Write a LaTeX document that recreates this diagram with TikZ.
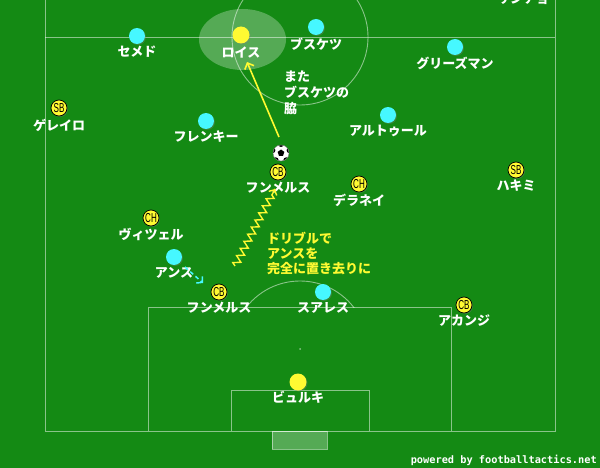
\documentclass[tikz,border=0pt]{standalone}
\usepackage{fontspec}
\setmainfont{Liberation Sans}
\newfontfamily\jpfont{Noto Sans CJK JP}
\newfontfamily\monofont{DejaVu Sans Mono}
\usetikzlibrary{arrows.meta,decorations.pathmorphing,shadows,shapes.geometric,calc}

\definecolor{pitch}{RGB}{20,138,20}
\definecolor{pyellow}{RGB}{255,250,50}
\definecolor{pcyan}{RGB}{70,248,255}

\tikzset{
  pline/.style={draw=white, opacity=0.5, line width=0.9pt},
  cyanp/.style={circle, fill=pcyan, minimum size=16pt, inner sep=0pt,
    drop shadow={shadow xshift=1pt, shadow yshift=-1pt, opacity=0.35}},
  yellowp/.style={circle, fill=pyellow, minimum size=17pt, inner sep=0pt,
    drop shadow={shadow xshift=1pt, shadow yshift=-1pt, opacity=0.35}},
  badge/.style={circle, fill=pyellow, draw=black, line width=0.7pt, minimum size=16pt, inner sep=0pt,
    font=\fontsize{13}{13}\selectfont,
    drop shadow={shadow xshift=1pt, shadow yshift=-1pt, opacity=0.35}},
  pname/.style={text=white, font=\jpfont\bfseries\fontsize{13}{13}\selectfont, inner sep=0pt},
  ynote/.style={text=pyellow, font=\jpfont\bfseries\fontsize{13}{15}\selectfont, inner sep=0pt, align=left, anchor=north west},
  wnote/.style={text=white, font=\jpfont\bfseries\fontsize{13}{16}\selectfont, inner sep=0pt, align=left, anchor=north west},
  yarrow/.style={draw=pyellow, line width=1.6pt, -{Straight Barb[length=5pt,width=10pt]}},
}
\newcommand{\bdg}[1]{\scalebox{0.62}[1]{#1}}

\begin{document}
\begin{tikzpicture}[x=1pt,y=-1pt]
\useasboundingbox (0,0) rectangle (600,468);
\clip (0,0) rectangle (600,468);
\fill[pitch] (0,0) rectangle (600,468);

% pitch lines
\draw[pline] (45,0) -- (45,431) -- (555,431) -- (555,0);
\draw[pline] (45,37) -- (555,37);
\draw[pline] (300,37) circle (68);
\draw[pline] (148,431) -- (148,307) -- (451,307) -- (451,431);
\draw[pline] (231,431) -- (231,390) -- (369,390) -- (369,431);
\begin{scope}
  \clip (0,0) rectangle (600,307);
  \draw[pline] (300,349) circle (68);
\end{scope}
\fill[white, opacity=0.5] (300,349) circle (1);
\draw[draw=white, draw opacity=0.5, fill=white, fill opacity=0.28, line width=0.9pt] (272,431) rectangle (327,449);

% highlight
\fill[white, opacity=0.28] (242.5,39.5) ellipse (43.5 and 30.5);

% opponents (cyan)
\node[cyanp] (semedo) at (137,36) {};
\node[pname] (semedo-l) at (137,52) {セメド};
\node[cyanp] (busquets) at (316,27) {};
\node[pname] (busquets-l) at (316,44) {ブスケツ};
\node[cyanp] (griezmann) at (455,47) {};
\node[pname] (griezmann-l) at (455,63) {グリーズマン};
\node[cyanp] (dejong) at (206,121) {};
\node[pname] (dejong-l) at (206,137) {フレンキー};
\node[cyanp] (arthur) at (388,115) {};
\node[pname] (arthur-l) at (388,131) {アルトゥール};
\node[cyanp] (fati) at (174,257) {};
\node[pname] (fati-l) at (174,273) {アンス};
\node[cyanp] (suarez) at (323,292) {};
\node[pname] (suarez-l) at (323,308) {スアレス};

% Dortmund (yellow)
\node[pname] (sancho-l) at (523,-1.5) {サンチョ};
\node[yellowp] (reus) at (241,35) {};
\node[pname] (reus-l) at (241,52) {ロイス};
\node[badge] (guerreiro) at (59,108) {\bdg{SB}};
\node[pname] (guerreiro-l) at (59,125) {ゲレイロ};
\node[badge] (hummels1) at (278,172) {\bdg{CB}};
\node[pname] (hummels1-l) at (278,188) {フンメルス};
\node[badge] (delaney) at (359,184) {\bdg{CH}};
\node[pname] (delaney-l) at (359,200) {デラネイ};
\node[badge] (hakimi) at (516,170) {\bdg{SB}};
\node[pname] (hakimi-l) at (516,186) {ハキミ};
\node[badge] (witsel) at (151,218) {\bdg{CH}};
\node[pname] (witsel-l) at (151,234) {ヴィツェル};
\node[badge] (hummels2) at (219,292) {\bdg{CB}};
\node[pname] (hummels2-l) at (219,308) {フンメルス};
\node[badge] (akanji) at (464,305) {\bdg{CB}};
\node[pname] (akanji-l) at (464,321) {アカンジ};
\node[yellowp] (burki) at (298,382) {};
\node[pname] (burki-l) at (298,397) {ビュルキ};

% ball
\node[circle, fill=white, draw=black!50, line width=0.4pt, minimum size=16pt, inner sep=0pt,
  path picture={
    \foreach \a in {18,90,162,234,306}
      \fill[black, shift={(path picture bounding box.center)}] (\a:9pt) circle (3pt);
    \node[regular polygon, regular polygon sides=5, fill=black, minimum size=7pt, inner sep=0pt]
      at (path picture bounding box.center) {};
  }] (ball) at (281,153) {};

% notes
\node[wnote] (note-busq) at (284,71) {また\\ブスケツの\\脇};
\node[ynote] (note-drib) at (267,232) {ドリブルで\\アンスを\\完全に置き去りに};

% arrows
\coordinate (pass-start) at (279,137);
\coordinate (pass-end) at (247,62);
\draw[yarrow] (pass-start) -- (pass-end);

\coordinate (drib-start) at (235,266);
\coordinate (drib-end) at (275,189);
\draw[draw=pyellow, line width=1.4pt, decorate,
  decoration={zigzag, segment length=8pt, amplitude=3.5pt, post length=3pt}]
  (drib-start) -- (drib-end);
\draw[draw=pyellow, line width=1.4pt, -{Straight Barb[length=4pt,width=9pt]}]
  ($(drib-end)!4pt!(drib-start)$) -- (drib-end);

\coordinate (fati-start) at (185,267);
\coordinate (fati-end) at (203,283);
\draw[draw=pcyan, line width=1.5pt, dash pattern=on 4pt off 3pt,
  -{Straight Barb[length=4pt,width=9pt]}] (fati-start) -- (fati-end);

% credit
\node[text=white, font=\monofont\bfseries\fontsize{10.3}{10}\selectfont, anchor=east, inner sep=0pt]
  (credit) at (597,460) {powered by footballtactics.net};
\end{tikzpicture}
\end{document}
